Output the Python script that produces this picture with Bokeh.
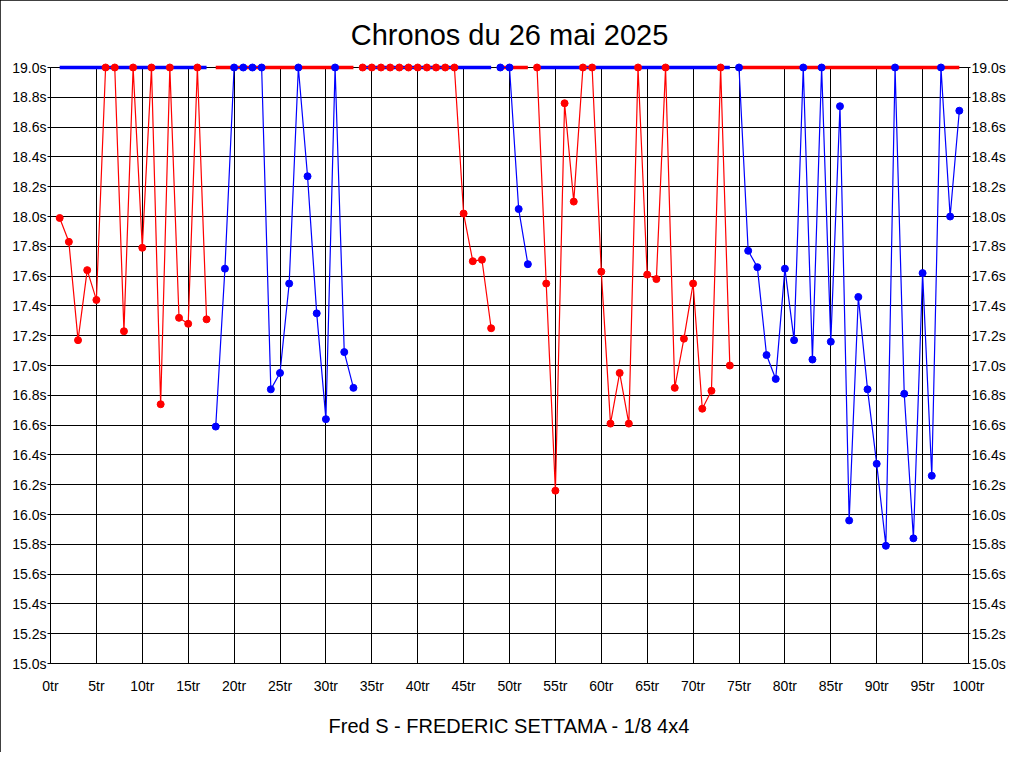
from bokeh.plotting import figure
from bokeh.models import Range1d, LinearAxis, FixedTicker, PrintfTickFormatter, Title, ColumnDataSource
from bokeh.embed import file_html
from bokeh.resources import INLINE

# ---- data ----
title_text = "Chronos du 26 mai 2025"
subtitle_text = "Fred S - FREDERIC SETTAMA - 1/8 4x4"

laps = list(range(1, 100))
chronos = [
    17.99, 17.83, 17.17, 17.64, 17.44, 19.00, 19.00, 17.23, 19.00, 17.79,
    19.00, 16.74, 19.00, 17.32, 17.28, 19.00, 17.31, 16.59, 17.65, 19.00,
    19.00, 19.00, 19.00, 16.84, 16.95, 17.55, 19.00, 18.27, 17.35, 16.64,
    19.00, 17.09, 16.85, 19.00, 19.00, 19.00, 19.00, 19.00, 19.00, 19.00,
    19.00, 19.00, 19.00, 19.00, 18.02, 17.70, 17.71, 17.25, 19.00, 19.00,
    18.05, 17.68, 19.00, 17.55, 16.16, 18.76, 18.10, 19.00, 19.00, 17.63,
    16.61, 16.95, 16.61, 19.00, 17.61, 17.58, 19.00, 16.85, 17.18, 17.55,
    16.71, 16.83, 19.00, 17.00, 19.00, 17.77, 17.66, 17.07, 16.91, 17.65,
    17.17, 19.00, 17.04, 19.00, 17.16, 18.74, 15.96, 17.46, 16.84, 16.34,
    15.79, 19.00, 16.81, 15.84, 17.62, 16.26, 19.00, 18.00, 18.71,
]
# (colour, first lap, last lap)
segments = [
    ("red", 1, 17), ("blue", 18, 33), ("red", 34, 48),
    ("blue", 49, 52), ("red", 53, 74), ("blue", 75, 99),
]
other_colour = {"red": "blue", "blue": "red"}
cap = 19.0

x_ticks = list(range(0, 101, 5))
y_ticks = [15.0, 15.2, 15.4, 15.6, 15.8, 16.0, 16.2, 16.4, 16.6, 16.8, 17.0,
           17.2, 17.4, 17.6, 17.8, 18.0, 18.2, 18.4, 18.6, 18.8, 19.0]

COL = {"red": "#ff0000", "blue": "#0000ff"}
FONT = "Liberation Sans"

p = figure(width=1008, height=752, x_range=Range1d(0, 100), y_range=Range1d(15.0, 19.0),
           output_backend="svg", toolbar_location=None,
           min_border_left=50, min_border_right=38, min_border_top=66, min_border_bottom=88)
p.background_fill_color = "white"
p.border_fill_color = "white"
p.outline_line_color = "black"
p.outline_line_width = 1
p.styles = {"outline": "1px solid black", "outline-offset": "-1px"}

p.title.text = title_text
p.title.align = "center"
p.title.text_font = FONT
p.title.text_font_size = "29px"
p.title.text_font_style = "normal"
p.title.text_color = "black"
p.title.standoff = 33

p.add_layout(Title(text=subtitle_text, align="center", text_font=FONT, text_font_size="20px",
                   text_font_style="normal", text_color="black", standoff=32), "below")

# axes
p.xaxis.ticker = FixedTicker(ticks=x_ticks)
p.xaxis.formatter = PrintfTickFormatter(format="%dtr")
p.yaxis.ticker = FixedTicker(ticks=y_ticks)
p.yaxis.formatter = PrintfTickFormatter(format="%.1fs")
ry = LinearAxis(ticker=FixedTicker(ticks=y_ticks), formatter=PrintfTickFormatter(format="%.1fs"))
p.add_layout(ry, "right")

for ax in p.axis:
    ax.axis_line_color = "black"
    ax.major_tick_line_color = "black"
    ax.minor_tick_line_color = None
    ax.major_tick_in = 0
    ax.major_label_text_font = FONT
    ax.major_label_text_font_size = "14px"
    ax.major_label_text_color = "black"
p.xaxis.major_tick_out = 0
p.xaxis.major_label_standoff = 14
p.yaxis.major_tick_out = 3
p.yaxis.major_label_standoff = 1
ry.major_tick_out = 2
ry.major_label_standoff = 1

p.xgrid.ticker = FixedTicker(ticks=x_ticks)
p.ygrid.ticker = FixedTicker(ticks=y_ticks)
for g in p.grid:
    g.grid_line_color = "black"
    g.grid_line_alpha = 1.0
    g.grid_line_width = 1

# thick cap lines in the other colour across each segment
for colour, a, b in segments:
    p.segment(x0=[a], y0=[cap], x1=[b], y1=[cap], line_color=COL[other_colour[colour]],
              line_width=3.5, level="overlay")

for colour, a, b in segments:
    idx = [i for i, l in enumerate(laps) if a <= l <= b]
    src = ColumnDataSource(dict(x=[laps[i] for i in idx], y=[chronos[i] for i in idx]))
    p.line("x", "y", source=src, line_color=COL[colour], line_width=1.2, level="overlay")

for colour, a, b in segments:
    idx = [i for i, l in enumerate(laps) if a <= l <= b]
    src = ColumnDataSource(dict(x=[laps[i] for i in idx], y=[chronos[i] for i in idx]))
    p.scatter("x", "y", source=src, size=7, fill_color=COL[colour], line_color=COL[colour],
              level="overlay")

open("out.html", "w").write(file_html(p, INLINE))
